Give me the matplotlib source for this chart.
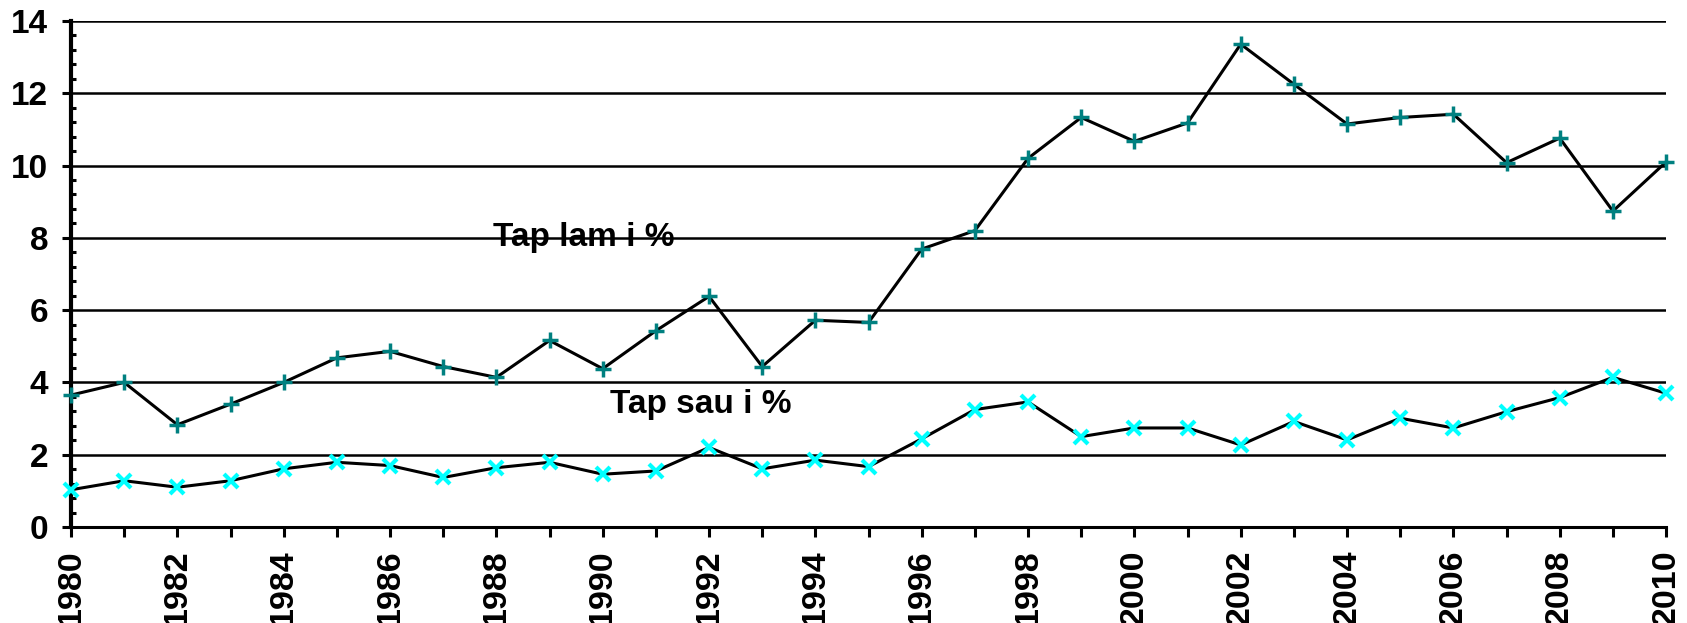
import matplotlib.pyplot as plt
import matplotlib.ticker as ticker

plt.rcParams['font.family'] = ['Liberation Sans', 'DejaVu Sans']
plt.rcParams['font.weight'] = 'bold'

years = list(range(1980, 2011))

# Tap lam i % (upper series)
tap_lam = [3.65, 4.0, 2.83, 3.4, 4.0, 4.68, 4.86, 4.44, 4.14, 5.16,
           4.38, 5.43, 6.38, 4.44, 5.72, 5.66, 7.69, 8.2, 10.2, 11.33,
           10.67, 11.18, 13.36, 12.25, 11.15, 11.33, 11.42, 10.08, 10.76, 8.74,
           10.1]

# Tap sau i % (lower series)
tap_sau = [1.03, 1.28, 1.1, 1.28, 1.61, 1.79, 1.7, 1.37, 1.64, 1.79,
           1.46, 1.55, 2.2, 1.61, 1.85, 1.67, 2.44, 3.25, 3.46, 2.5,
           2.74, 2.74, 2.27, 2.92, 2.41, 3.01, 2.74, 3.19, 3.58, 4.14,
           3.7]

fig = plt.figure(figsize=(16.87, 6.23), dpi=100)
ax = fig.add_axes([0.0421, 0.1541, 0.9455, 0.8122])

# horizontal grid lines
for yv in range(2, 15, 2):
    ax.axhline(yv, color='black', lw=1.8, zorder=1)

ax.plot(years, tap_lam, color='black', lw=2.2, marker='+', ms=11,
        mec='#008080', mew=2.5, zorder=3, clip_on=False)
ax.plot(years, tap_sau, color='black', lw=2.2, marker='x', ms=10.5,
        mec='#00FFFF', mew=3, zorder=3, clip_on=False)

ax.text(1989.65, 8.0, 'Tap lam i %', ha='center', va='center',
        fontsize=24, fontweight='bold', zorder=4)
ax.text(1991.85, 3.38, 'Tap sau i %', ha='center', va='center',
        fontsize=24, fontweight='bold', zorder=4)

ax.set_xlim(1980, 2010)
ax.set_ylim(0, 14)

ax.spines['top'].set_visible(False)
ax.spines['right'].set_visible(False)
ax.spines['left'].set_linewidth(3)
ax.spines['bottom'].set_linewidth(2.2)

ax.xaxis.set_major_locator(ticker.MultipleLocator(2))
ax.xaxis.set_minor_locator(ticker.MultipleLocator(1))
ax.yaxis.set_major_locator(ticker.MultipleLocator(2))
ax.yaxis.set_minor_locator(ticker.MultipleLocator(0.4))

ax.tick_params(axis='x', which='both', direction='out', length=7, width=2.2,
               labelsize=24.5, rotation=90, pad=9)
ax.tick_params(axis='y', which='major', direction='out', length=6.5, width=2.2,
               labelsize=24, pad=10)
ax.tick_params(axis='y', which='minor', direction='in', length=3.6, width=2.2)

for lab in ax.get_xticklabels() + ax.get_yticklabels():
    lab.set_fontweight('bold')

fig.savefig('out.png', dpi=100)
